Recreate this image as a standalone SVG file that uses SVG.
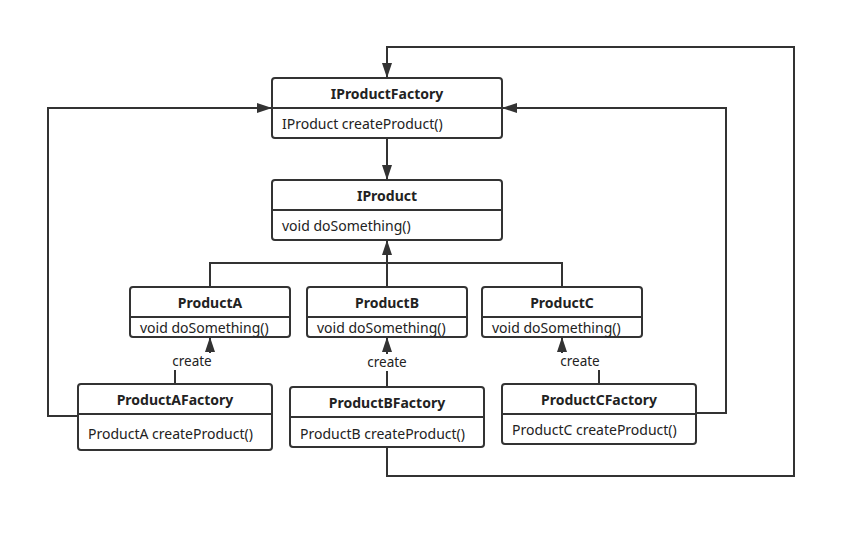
<svg xmlns="http://www.w3.org/2000/svg" width="856" height="539" viewBox="0 0 856 539">
<style>
.box{fill:#fff;stroke:#333;stroke-width:2}
.div{stroke:#333;stroke-width:2}
.ln{fill:none;stroke:#333;stroke-width:2}
.t{font-family:"Noto Sans","Open Sans",sans-serif;font-size:14px;font-weight:bold;fill:#222;text-anchor:middle;dominant-baseline:central}
.m{font-family:"Noto Sans","Open Sans",sans-serif;font-size:14px;fill:#222;dominant-baseline:central}
.lbl{font-family:"Noto Sans","Open Sans",sans-serif;font-size:13.5px;fill:#222;text-anchor:middle;dominant-baseline:central}
</style>
<defs>
<marker id="ah" markerWidth="15" markerHeight="10" refX="14" refY="5" orient="auto" markerUnits="userSpaceOnUse">
<path d="M0,0 L15,5 L0,10 Z" fill="#333"/>
</marker>
</defs>
<rect width="856" height="539" fill="#fff"/>
<g id="connectors">
<path class="ln" d="M387 138 V179" marker-end="url(#ah)"/>
<path class="ln" d="M210 287 V263 H562 V287 M387 287 V241" marker-end="url(#ah)"/>
<path class="ln" d="M78 416 H48 V108 H271" marker-end="url(#ah)"/>
<path class="ln" d="M696 413 H726 V108 H503" marker-end="url(#ah)"/>
<path class="ln" d="M387 447 V476 H794 V47 H387 V77" marker-end="url(#ah)"/>
<path class="ln" d="M175 384 V361 H210 V338" marker-end="url(#ah)"/>
<path class="ln" d="M387 387 V361 H387 V338" marker-end="url(#ah)"/>
<path class="ln" d="M599 384 V361 H562 V338" marker-end="url(#ah)"/>
<rect x="168" y="353" width="48" height="17" fill="#fff"/>
<rect x="363" y="354" width="48" height="17" fill="#fff"/>
<rect x="556" y="353" width="48" height="17" fill="#fff"/>
<text class="lbl" x="192" y="361">create</text>
<text class="lbl" x="387" y="362">create</text>
<text class="lbl" x="580" y="361">create</text>
</g>
<g id="IProductFactory">
<rect class="box" x="272" y="78" width="230" height="60" rx="3"/>
<line class="div" x1="272" y1="108" x2="502" y2="108"/>
<text class="t" x="387" y="93">IProductFactory</text>
<text class="m" x="282" y="123">IProduct createProduct()</text>
</g>
<g id="IProduct">
<rect class="box" x="272" y="180" width="230" height="60" rx="3"/>
<line class="div" x1="272" y1="210" x2="502" y2="210"/>
<text class="t" x="387" y="195">IProduct</text>
<text class="m" x="282" y="225">void doSomething()</text>
</g>
<g id="ProductA">
<rect class="box" x="130" y="287" width="160" height="50" rx="3"/>
<line class="div" x1="130" y1="317" x2="290" y2="317"/>
<text class="t" x="210" y="302">ProductA</text>
<text class="m" x="140" y="327">void doSomething()</text>
</g>
<g id="ProductB">
<rect class="box" x="307" y="287" width="160" height="50" rx="3"/>
<line class="div" x1="307" y1="317" x2="467" y2="317"/>
<text class="t" x="387" y="302">ProductB</text>
<text class="m" x="317" y="327">void doSomething()</text>
</g>
<g id="ProductC">
<rect class="box" x="482" y="287" width="160" height="50" rx="3"/>
<line class="div" x1="482" y1="317" x2="642" y2="317"/>
<text class="t" x="562" y="302">ProductC</text>
<text class="m" x="492" y="327">void doSomething()</text>
</g>
<g id="ProductAFactory">
<rect class="box" x="78" y="384" width="194" height="66" rx="3"/>
<line class="div" x1="78" y1="414" x2="272" y2="414"/>
<text class="t" x="175" y="399">ProductAFactory</text>
<text class="m" x="88" y="433">ProductA createProduct()</text>
</g>
<g id="ProductBFactory">
<rect class="box" x="290" y="387" width="194" height="60" rx="3"/>
<line class="div" x1="290" y1="417" x2="484" y2="417"/>
<text class="t" x="387" y="402">ProductBFactory</text>
<text class="m" x="300" y="433">ProductB createProduct()</text>
</g>
<g id="ProductCFactory">
<rect class="box" x="502" y="384" width="194" height="60" rx="3"/>
<line class="div" x1="502" y1="414" x2="696" y2="414"/>
<text class="t" x="599" y="399">ProductCFactory</text>
<text class="m" x="512" y="429">ProductC createProduct()</text>
</g>
</svg>
